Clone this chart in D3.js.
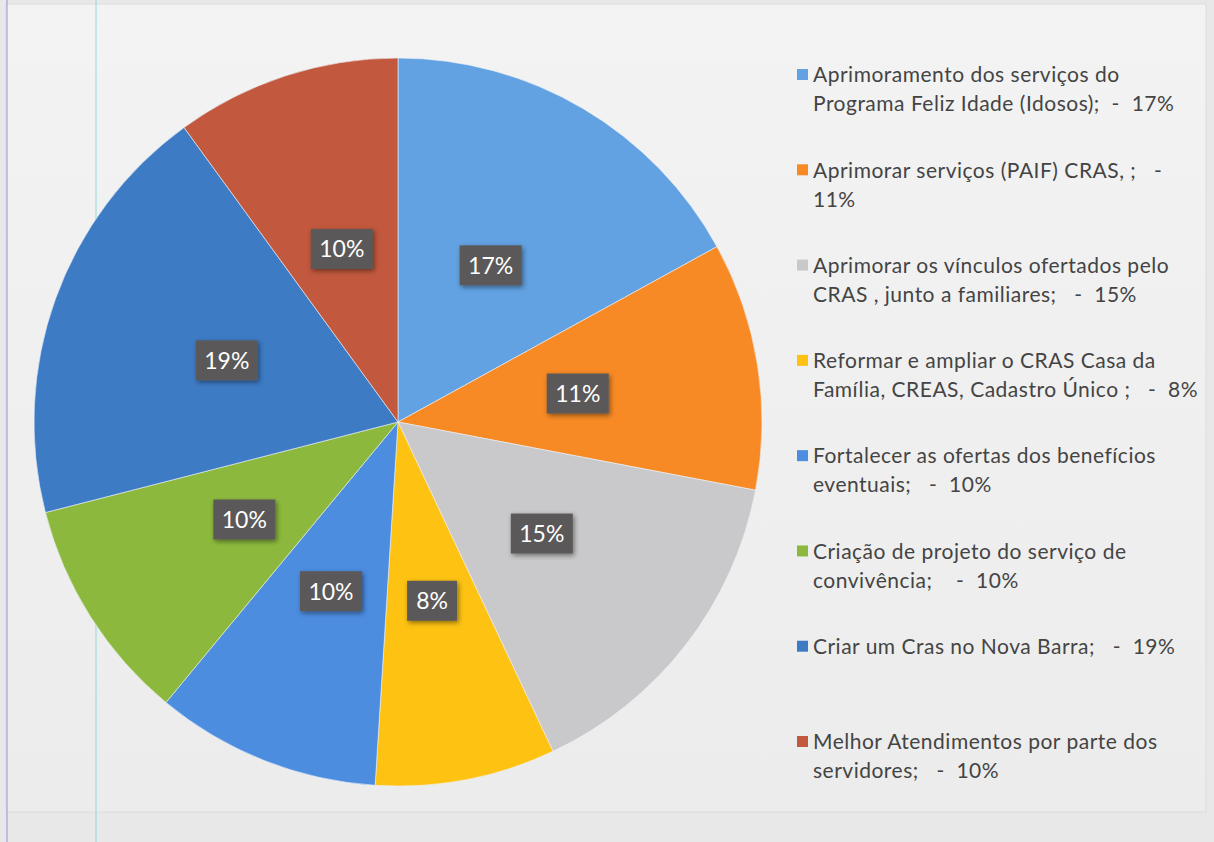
<!DOCTYPE html>
<html>
<head>
<meta charset="utf-8">
<script src="https://cdn.jsdelivr.net/npm/d3@7/dist/d3.min.js"></script>
<style>
  html, body { margin: 0; padding: 0; background: #e9e9e9; }
  svg { display: block; }
  text { white-space: pre; }
</style>
</head>
<body>
<svg id="chart" width="1214" height="842"></svg>
<script>
// Survey answers, in drawing order (clockwise from 12 o'clock)
const categories = [
  "Aprimoramento dos serviços do Programa Feliz Idade (Idosos);",
  "Aprimorar serviços (PAIF) CRAS, ;",
  "Aprimorar os vínculos ofertados pelo CRAS , junto a familiares;",
  "Reformar e ampliar o CRAS Casa da Família, CREAS, Cadastro Único ;",
  "Fortalecer as ofertas dos benefícios eventuais;",
  "Criação de projeto do serviço de convivência;",
  "Criar um Cras no Nova Barra;",
  "Melhor Atendimentos por parte dos servidores;"
];
const values = [17, 11, 15, 8, 10, 10, 19, 10];

// Legend text, already broken into lines as printed
const legendLines = [
  ["Aprimoramento dos serviços do", "Programa Feliz Idade (Idosos);  -  17%"],
  ["Aprimorar serviços (PAIF) CRAS, ;   -", "11%"],
  ["Aprimorar os vínculos ofertados pelo", "CRAS , junto a familiares;   -  15%"],
  ["Reformar e ampliar o CRAS Casa da", "Família, CREAS, Cadastro Único ;   -  8%"],
  ["Fortalecer as ofertas dos benefícios", "eventuais;   -  10%"],
  ["Criação de projeto do serviço de", "convivência;    -  10%"],
  ["Criar um Cras no Nova Barra;   -  19%"],
  ["Melhor Atendimentos por parte dos", "servidores;   -  10%"]
];

const colors = ["#62a2e2", "#f78a25", "#c9c9cb", "#fdc212", "#4c8de0", "#8cb93d", "#3d7bc5", "#c2583d"];

const svg = d3.select("#chart");
const defs = svg.append("defs");

const bgGrad = defs.append("linearGradient").attr("id", "bg").attr("x1", 0).attr("y1", 0).attr("x2", 0).attr("y2", 1);
bgGrad.append("stop").attr("offset", "0%").attr("stop-color", "#f3f3f3");
bgGrad.append("stop").attr("offset", "100%").attr("stop-color", "#ececec");

const shadow = defs.append("filter").attr("id", "shadow")
  .attr("x", "-30%").attr("y", "-30%").attr("width", "160%").attr("height", "160%");
shadow.append("feDropShadow").attr("dx", 1.5).attr("dy", 2).attr("stdDeviation", 2.5)
  .attr("flood-color", "#000").attr("flood-opacity", 0.45);

// page panel
svg.append("rect").attr("x", 0).attr("y", 0).attr("width", 1214).attr("height", 842).attr("fill", "#e8e8e8");
svg.append("rect").attr("x", 6).attr("y", 4).attr("width", 1200).attr("height", 808)
  .attr("fill", "url(#bg)").attr("stroke", "#dcdcdc").attr("stroke-width", 1);

// margin rules on the sheet
svg.append("line").attr("x1", 7).attr("x2", 7).attr("y1", 0).attr("y2", 842)
  .attr("stroke", "#a58bd8").attr("stroke-width", 1);
svg.append("line").attr("x1", 96).attr("x2", 96).attr("y1", 0).attr("y2", 842)
  .attr("stroke", "#8fdbd8").attr("stroke-width", 1);

// pie
const cx = 398, cy = 422, R = 364;
const pie = d3.pie().sort(null).value(d => d);
const arcs = pie(values);
const arc = d3.arc().innerRadius(0).outerRadius(R);
const labelArc = d3.arc().innerRadius(R * 0.5).outerRadius(R * 0.5);

const g = svg.append("g").attr("transform", `translate(${cx},${cy})`);
g.selectAll("path.slice").data(arcs).join("path")
  .attr("class", "slice")
  .attr("d", arc)
  .attr("fill", (d, i) => colors[i])
  .attr("stroke", "#eef2f6").attr("stroke-width", 0.6);

// data labels: dark boxes with white percentages
const lbl = g.selectAll("g.lbl").data(arcs).join("g")
  .attr("class", "lbl")
  .attr("transform", d => `translate(${labelArc.centroid(d)})`);

lbl.each(function(d) {
  const sel = d3.select(this);
  const t = d.data + "%";
  const w = t.length === 2 ? 50 : 62;
  sel.append("rect").attr("x", -w / 2).attr("y", -20).attr("width", w).attr("height", 40)
    .attr("fill", "#5a5958").attr("filter", "url(#shadow)");
  sel.append("text").attr("text-anchor", "middle").attr("dy", "0.36em")
    .attr("font-family", "Lato, 'Open Sans', sans-serif").attr("font-size", 23)
    .attr("fill", "#ffffff").text(t);
});

// legend
const legY = d3.scalePoint().domain(d3.range(categories.length)).range([75, 742]);
const leg = svg.append("g").attr("font-family", "Lato, 'Open Sans', sans-serif")
  .attr("font-size", 21).attr("letter-spacing", 0.5).attr("fill", "#444");
categories.forEach((c, i) => {
  const y0 = legY(i);
  leg.append("rect").attr("x", 797).attr("y", y0 - 6).attr("width", 11).attr("height", 11).attr("fill", colors[i]);
  legendLines[i].forEach((ln, j) => {
    leg.append("text").attr("x", 813).attr("y", y0 + j * 29).attr("dy", "0.35em").text(ln);
  });
});
</script>
</body>
</html>
